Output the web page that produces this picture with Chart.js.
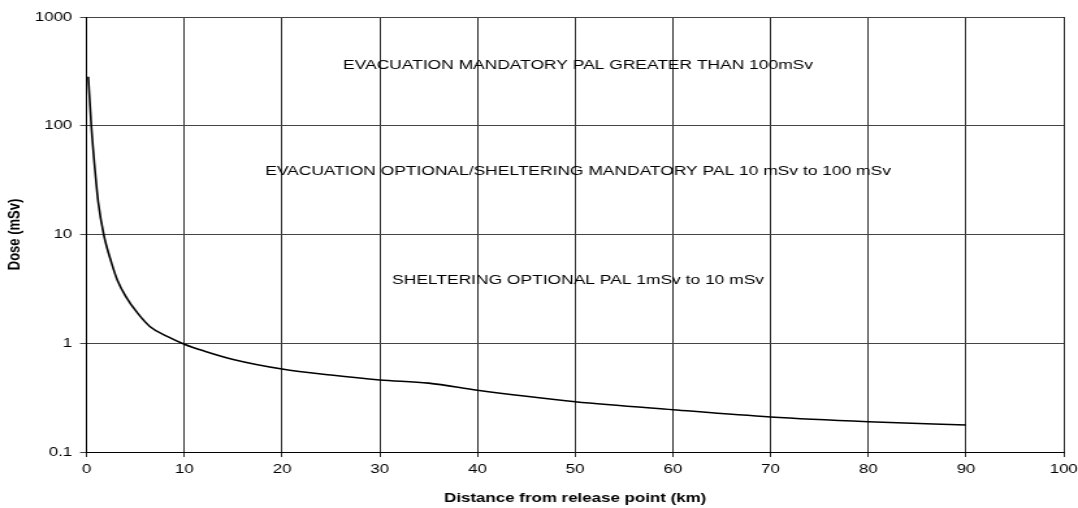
<!DOCTYPE html>
<html>
<head>
<meta charset="utf-8">
<script src="https://cdn.jsdelivr.net/npm/chart.js@4.4.1/dist/chart.umd.min.js"></script>
<style>
    html, body { margin: 0; padding: 0; background: #fff; overflow: hidden; }
    /* the source chart is stretched sideways, so draw narrow and scale up */
    #wrap { width: 829px; height: 508px; transform: scaleX(1.30036); transform-origin: 0 0; }
</style>
</head>
<body>
<div id="wrap"><canvas id="doseChart"></canvas></div>
<script>
// distance from release point (km) and dose (mSv)
const distKm = [0.17, 0.48, 0.86, 1.2, 1.75, 2.57, 3.15, 4.0, 5.2, 6.5, 8.3, 10, 12, 15, 20, 25, 30, 35, 40, 45, 50, 60, 70, 80, 90];
const doseMsv = [282, 100, 39, 19.4, 10, 5.4, 3.8, 2.7, 1.9, 1.42, 1.15, 0.98, 0.85, 0.71, 0.58, 0.51, 0.46, 0.43, 0.37, 0.325, 0.29, 0.245, 0.21, 0.19, 0.177];

const yTickValues = [0.1, 1, 10, 100, 1000];
const yTickLabels = ['0.1', '1', '10', '100', '1000'];

// zone labels, placed in data units
const zoneText = [
    'EVACUATION MANDATORY PAL GREATER THAN 100mSv',
    'EVACUATION OPTIONAL/SHELTERING MANDATORY PAL 10 mSv to 100 mSv',
    'SHELTERING OPTIONAL PAL 1mSv to 10 mSv'
];
const zoneX = [50.3, 50.3, 50.3];
const zoneY = [360, 38, 3.8];

const FONT = "'Liberation Sans', Arial, sans-serif";

const zoneLabels = {
    id: 'zoneLabels',
    afterDatasetsDraw(chart) {
        const ctx = chart.ctx;
        const xs = chart.scales.x;
        const ys = chart.scales.y;
        ctx.save();
        ctx.font = `13.4px ${FONT}`;
        ctx.fillStyle = '#000';
        ctx.textAlign = 'center';
        ctx.textBaseline = 'middle';
        zoneText.forEach((t, i) => {
            ctx.fillText(t, xs.getPixelForValue(zoneX[i]), ys.getPixelForValue(zoneY[i]));
        });
        ctx.restore();
    }
};

const points = distKm.map((d, i) => ({ x: d, y: doseMsv[i] }));

new Chart(document.getElementById('doseChart'), {
    type: 'line',
    data: {
        datasets: [{
            label: 'Dose',
            data: points,
            borderColor: '#000',
            borderWidth: 1.6,
            pointRadius: 0,
            fill: false,
            cubicInterpolationMode: 'monotone'
        }]
    },
    options: {
        responsive: true,
        maintainAspectRatio: false,
        animation: false,
        devicePixelRatio: 1,
        layout: { padding: { top: 17, right: 11, bottom: 0, left: 0 } },
        plugins: {
            legend: { display: false },
            tooltip: { enabled: false }
        },
        scales: {
            x: {
                type: 'linear',
                min: 0,
                max: 100,
                ticks: { stepSize: 10, color: '#000', padding: 5, maxRotation: 0, font: { family: FONT, size: 13 } },
                grid: { color: '#2a2a2a', tickLength: 5, tickColor: '#2a2a2a' },
                border: { color: '#000', width: 1 },
                title: {
                    display: true,
                    text: 'Distance from release point (km)',
                    color: '#000',
                    padding: { top: 0, bottom: 2 },
                    font: { family: FONT, size: 13, weight: 'bold' }
                },
                afterFit: (axis) => {
                    axis.height = 56;
                    axis.paddingLeft = 0;
                    axis.paddingRight = 0;
                }
            },
            y: {
                type: 'logarithmic',
                min: 0.1,
                max: 1000,
                afterBuildTicks: (axis) => {
                    axis.ticks = yTickValues.map(v => ({ value: v }));
                },
                ticks: {
                    color: '#000',
                    padding: 6,
                    font: { family: FONT, size: 13 },
                    callback: (v) => {
                        const i = yTickValues.indexOf(v);
                        return i >= 0 ? yTickLabels[i] : '';
                    }
                },
                grid: { color: '#444', tickLength: 5, tickColor: '#444' },
                border: { color: '#000', width: 1 },
                title: {
                    display: true,
                    text: 'Dose (mSv)',
                    color: '#000',
                    padding: { top: 4, bottom: 0 },
                    font: { family: FONT, size: 13, weight: 'bold' }
                },
                afterFit: (axis) => { axis.width = 66.6; }
            }
        }
    },
    plugins: [zoneLabels]
});
</script>
</body>
</html>
